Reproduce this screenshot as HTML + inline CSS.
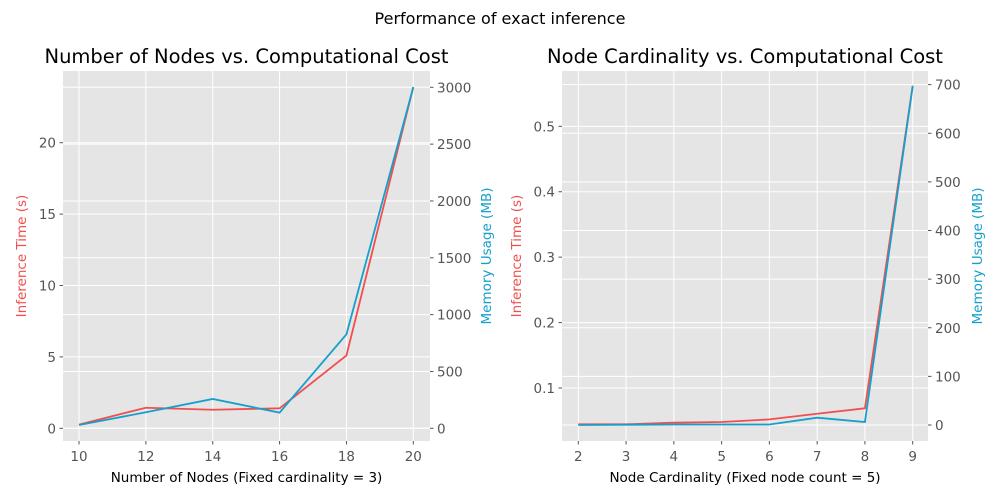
<!DOCTYPE html>
<html><head><meta charset="utf-8"><style>
body{margin:0;background:#fff}
svg{display:block;font-family:"DejaVu Sans","Liberation Sans",sans-serif}
</style></head><body>
<svg id="c" width="1000" height="500">
<text x="500" y="24" text-anchor="middle" font-size="16" fill="#000">Performance of exact inference</text>
</svg>
<script>
const nodesX=[10,12,14,16,18,20];
const nodesTime=[0.26,1.44,1.3,1.4,5.1,23.9];
const nodesMem=[29,141,258,138,827,3000];
const nodesXTicks=[10,12,14,16,18,20];
const nodesTimeTicks=[0,5,10,15,20];
const nodesMemTicks=[0,500,1000,1500,2000,2500,3000];
const cardX=[2,3,4,5,6,7,8,9];
const cardTime=[0.0445,0.0445,0.047,0.048,0.052,0.0607,0.069,0.562];
const cardMem=[0,0.5,1,1,1,15,6,697];
const cardXTicks=[2,3,4,5,6,7,8,9];
const cardTimeTicks=[0.1,0.2,0.3,0.4,0.5];
const cardMemTicks=[0,100,200,300,400,500,600,700];

const NS="http://www.w3.org/2000/svg";
const svg=document.getElementById('c');
function mk(t,a,p){const e=document.createElementNS(NS,t);for(const k in a)e.setAttribute(k,a[k]);(p||svg).appendChild(e);return e;}
const RED="#f04f4f",BLUE="#15a0cc";
function panel(o){
  const g=mk('g',{});
  
  
  const bg=mk('rect',{x:o.x0,y:o.y0,width:o.x1-o.x0,height:o.y1-o.y0,fill:'#e5e5e5'},g);
  
  
  const sx=v=>o.xa+(v-o.xv0)*o.xs;
  const sy=v=>o.ya-(v-o.yv0)*o.ys;
  const sy2=v=>o.ya2-(v-o.y2v0)*o.y2s;
  o.xTicks.forEach(t=>{const X=sx(t);
    mk('line',{x1:X,x2:X,y1:o.y0,y2:o.y1,stroke:'#fff','stroke-width':1},g);
    mk('line',{x1:X,x2:X,y1:o.y1,y2:o.y1+3.5,stroke:'#555'},g);
    const tx=mk('text',{x:X,y:o.y1+20,'text-anchor':'middle','font-size':13.5,fill:'#555'},g);tx.textContent=t;
    
    });
  o.yTicks.forEach(t=>{const Y=sy(t);
    mk('line',{x1:o.x0,x2:o.x1,y1:Y,y2:Y,stroke:'#fff'},g);
    mk('line',{x1:o.x0-3.5,x2:o.x0,y1:Y,y2:Y,stroke:'#555'},g);
    const tx=mk('text',{x:o.x0-7,y:Y+5,'text-anchor':'end','font-size':13.5,fill:'#555'},g);tx.textContent=t;
    
    });
  o.y2Ticks.forEach(t=>{const Y=sy2(t);
    mk('line',{x1:o.x0,x2:o.x1,y1:Y,y2:Y,stroke:'#fff'},g);
    mk('line',{x1:o.x1,x2:o.x1+3.5,y1:Y,y2:Y,stroke:'#555'},g);
    const tx=mk('text',{x:o.x1+7,y:Y+5,'text-anchor':'start','font-size':13.5,fill:'#555'},g);tx.textContent=t;
    
    });
  const l1=mk('polyline',{points:o.xs_.map((v,i)=>sx(v)+','+sy(o.t[i])).join(' '),fill:'none',stroke:RED,'stroke-width':1.8},g);
  
  
  const l2=mk('polyline',{points:o.xs_.map((v,i)=>sx(v)+','+sy2(o.m[i])).join(' '),fill:'none',stroke:BLUE,'stroke-width':1.8},g);
  
  
  const tt=mk('text',{x:(o.x0+o.x1)/2,y:63,'text-anchor':'middle','font-size':19.5,fill:'#000'},g);tt.textContent=o.title;
  
  
  const xl=mk('text',{x:(o.x0+o.x1)/2,y:482,'text-anchor':'middle','font-size':13.5,fill:'#000'},g);xl.textContent=o.xlabel;
  
  
  const cy=(o.y0+o.y1)/2;
  const yl=mk('text',{x:o.ylx,y:cy,'text-anchor':'middle','font-size':13.5,fill:RED,transform:`rotate(-90 ${o.ylx} ${cy})`},g);yl.textContent='Inference Time (s)';
  
  
  const y2l=mk('text',{x:o.y2lx,y:cy,'text-anchor':'middle','font-size':13.5,fill:BLUE,transform:`rotate(-90 ${o.y2lx} ${cy})`},g);y2l.textContent='Memory Usage (MB)';
  
  
}
panel({name:'nodes-panel',x0:63,x1:430,y0:71,y1:441,xa:79,xv0:10,xs:33.43,ya:428.3,yv0:0,ys:14.28,ya2:428.3,y2v0:0,y2s:0.11367,
  xTicks:nodesXTicks,yTicks:nodesTimeTicks,y2Ticks:nodesMemTicks,xs_:nodesX,t:nodesTime,m:nodesMem,
  title:'Number of Nodes vs. Computational Cost',xlabel:'Number of Nodes (Fixed cardinality = 3)',ylx:26,y2lx:491});
panel({name:'cardinality-panel',x0:562,x1:928,y0:71,y1:441,xa:578.3,xv0:2,xs:47.77,ya:388,yv0:0.1,ys:654.2,ya2:425,y2v0:0,y2s:0.4862,
  xTicks:cardXTicks,yTicks:cardTimeTicks,y2Ticks:cardMemTicks,xs_:cardX,t:cardTime,m:cardMem,
  title:'Node Cardinality vs. Computational Cost',xlabel:'Node Cardinality (Fixed node count = 5)',ylx:521,y2lx:982});
</script>
</body></html>
